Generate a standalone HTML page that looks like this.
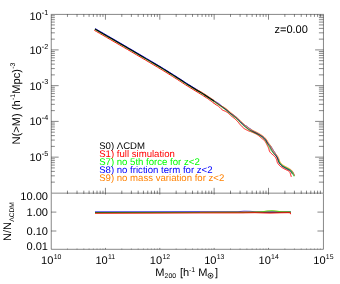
<!DOCTYPE html>
<html><head><meta charset="utf-8"><style>
html,body{margin:0;padding:0;background:#fff;}
svg{display:block;font-family:"Liberation Sans",sans-serif;will-change:transform;text-rendering:geometricPrecision;}
</style></head><body>
<svg width="340" height="284" viewBox="0 0 340 284">
<rect width="340" height="284" fill="#fff"/>
<g>
<rect x="51.25" y="14.4" width="272.2" height="178.75" fill="none" stroke="#000" stroke-width="1.0" stroke-opacity="0.47"/>
<polyline points="51.25,193.65 51.25,249.3 323.45,249.3 323.45,193.65" fill="none" stroke="#000" stroke-width="1.0" stroke-opacity="0.47"/>
<line x1="67.46" y1="14.40" x2="67.46" y2="16.90" stroke="#000" stroke-width="1.0" stroke-opacity="0.47"/>
<line x1="67.46" y1="193.15" x2="67.46" y2="190.65" stroke="#000" stroke-width="1.0" stroke-opacity="0.47"/>
<line x1="67.46" y1="193.15" x2="67.46" y2="193.85" stroke="#000" stroke-width="1.0" stroke-opacity="0.47"/>
<line x1="67.46" y1="249.30" x2="67.46" y2="248.60" stroke="#000" stroke-width="1.0" stroke-opacity="0.47"/>
<line x1="77.03" y1="14.40" x2="77.03" y2="16.90" stroke="#000" stroke-width="1.0" stroke-opacity="0.47"/>
<line x1="77.03" y1="193.15" x2="77.03" y2="190.65" stroke="#000" stroke-width="1.0" stroke-opacity="0.47"/>
<line x1="77.03" y1="193.15" x2="77.03" y2="193.85" stroke="#000" stroke-width="1.0" stroke-opacity="0.47"/>
<line x1="77.03" y1="249.30" x2="77.03" y2="248.60" stroke="#000" stroke-width="1.0" stroke-opacity="0.47"/>
<line x1="83.82" y1="14.40" x2="83.82" y2="16.90" stroke="#000" stroke-width="1.0" stroke-opacity="0.47"/>
<line x1="83.82" y1="193.15" x2="83.82" y2="190.65" stroke="#000" stroke-width="1.0" stroke-opacity="0.47"/>
<line x1="83.82" y1="193.15" x2="83.82" y2="193.85" stroke="#000" stroke-width="1.0" stroke-opacity="0.47"/>
<line x1="83.82" y1="249.30" x2="83.82" y2="248.60" stroke="#000" stroke-width="1.0" stroke-opacity="0.47"/>
<line x1="89.09" y1="14.40" x2="89.09" y2="16.90" stroke="#000" stroke-width="1.0" stroke-opacity="0.47"/>
<line x1="89.09" y1="193.15" x2="89.09" y2="190.65" stroke="#000" stroke-width="1.0" stroke-opacity="0.47"/>
<line x1="89.09" y1="193.15" x2="89.09" y2="193.85" stroke="#000" stroke-width="1.0" stroke-opacity="0.47"/>
<line x1="89.09" y1="249.30" x2="89.09" y2="248.60" stroke="#000" stroke-width="1.0" stroke-opacity="0.47"/>
<line x1="93.39" y1="14.40" x2="93.39" y2="16.90" stroke="#000" stroke-width="1.0" stroke-opacity="0.47"/>
<line x1="93.39" y1="193.15" x2="93.39" y2="190.65" stroke="#000" stroke-width="1.0" stroke-opacity="0.47"/>
<line x1="93.39" y1="193.15" x2="93.39" y2="193.85" stroke="#000" stroke-width="1.0" stroke-opacity="0.47"/>
<line x1="93.39" y1="249.30" x2="93.39" y2="248.60" stroke="#000" stroke-width="1.0" stroke-opacity="0.47"/>
<line x1="97.03" y1="14.40" x2="97.03" y2="16.90" stroke="#000" stroke-width="1.0" stroke-opacity="0.47"/>
<line x1="97.03" y1="193.15" x2="97.03" y2="190.65" stroke="#000" stroke-width="1.0" stroke-opacity="0.47"/>
<line x1="97.03" y1="193.15" x2="97.03" y2="193.85" stroke="#000" stroke-width="1.0" stroke-opacity="0.47"/>
<line x1="97.03" y1="249.30" x2="97.03" y2="248.60" stroke="#000" stroke-width="1.0" stroke-opacity="0.47"/>
<line x1="100.18" y1="14.40" x2="100.18" y2="16.90" stroke="#000" stroke-width="1.0" stroke-opacity="0.47"/>
<line x1="100.18" y1="193.15" x2="100.18" y2="190.65" stroke="#000" stroke-width="1.0" stroke-opacity="0.47"/>
<line x1="100.18" y1="193.15" x2="100.18" y2="193.85" stroke="#000" stroke-width="1.0" stroke-opacity="0.47"/>
<line x1="100.18" y1="249.30" x2="100.18" y2="248.60" stroke="#000" stroke-width="1.0" stroke-opacity="0.47"/>
<line x1="102.96" y1="14.40" x2="102.96" y2="16.90" stroke="#000" stroke-width="1.0" stroke-opacity="0.47"/>
<line x1="102.96" y1="193.15" x2="102.96" y2="190.65" stroke="#000" stroke-width="1.0" stroke-opacity="0.47"/>
<line x1="102.96" y1="193.15" x2="102.96" y2="193.85" stroke="#000" stroke-width="1.0" stroke-opacity="0.47"/>
<line x1="102.96" y1="249.30" x2="102.96" y2="248.60" stroke="#000" stroke-width="1.0" stroke-opacity="0.47"/>
<line x1="105.45" y1="14.40" x2="105.45" y2="19.70" stroke="#000" stroke-width="1.0" stroke-opacity="0.47"/>
<line x1="105.45" y1="193.15" x2="105.45" y2="187.85" stroke="#000" stroke-width="1.0" stroke-opacity="0.47"/>
<line x1="105.45" y1="193.15" x2="105.45" y2="194.55" stroke="#000" stroke-width="1.0" stroke-opacity="0.47"/>
<line x1="105.45" y1="249.30" x2="105.45" y2="247.90" stroke="#000" stroke-width="1.0" stroke-opacity="0.47"/>
<line x1="121.81" y1="14.40" x2="121.81" y2="16.90" stroke="#000" stroke-width="1.0" stroke-opacity="0.47"/>
<line x1="121.81" y1="193.15" x2="121.81" y2="190.65" stroke="#000" stroke-width="1.0" stroke-opacity="0.47"/>
<line x1="121.81" y1="193.15" x2="121.81" y2="193.85" stroke="#000" stroke-width="1.0" stroke-opacity="0.47"/>
<line x1="121.81" y1="249.30" x2="121.81" y2="248.60" stroke="#000" stroke-width="1.0" stroke-opacity="0.47"/>
<line x1="131.38" y1="14.40" x2="131.38" y2="16.90" stroke="#000" stroke-width="1.0" stroke-opacity="0.47"/>
<line x1="131.38" y1="193.15" x2="131.38" y2="190.65" stroke="#000" stroke-width="1.0" stroke-opacity="0.47"/>
<line x1="131.38" y1="193.15" x2="131.38" y2="193.85" stroke="#000" stroke-width="1.0" stroke-opacity="0.47"/>
<line x1="131.38" y1="249.30" x2="131.38" y2="248.60" stroke="#000" stroke-width="1.0" stroke-opacity="0.47"/>
<line x1="138.17" y1="14.40" x2="138.17" y2="16.90" stroke="#000" stroke-width="1.0" stroke-opacity="0.47"/>
<line x1="138.17" y1="193.15" x2="138.17" y2="190.65" stroke="#000" stroke-width="1.0" stroke-opacity="0.47"/>
<line x1="138.17" y1="193.15" x2="138.17" y2="193.85" stroke="#000" stroke-width="1.0" stroke-opacity="0.47"/>
<line x1="138.17" y1="249.30" x2="138.17" y2="248.60" stroke="#000" stroke-width="1.0" stroke-opacity="0.47"/>
<line x1="143.44" y1="14.40" x2="143.44" y2="16.90" stroke="#000" stroke-width="1.0" stroke-opacity="0.47"/>
<line x1="143.44" y1="193.15" x2="143.44" y2="190.65" stroke="#000" stroke-width="1.0" stroke-opacity="0.47"/>
<line x1="143.44" y1="193.15" x2="143.44" y2="193.85" stroke="#000" stroke-width="1.0" stroke-opacity="0.47"/>
<line x1="143.44" y1="249.30" x2="143.44" y2="248.60" stroke="#000" stroke-width="1.0" stroke-opacity="0.47"/>
<line x1="147.74" y1="14.40" x2="147.74" y2="16.90" stroke="#000" stroke-width="1.0" stroke-opacity="0.47"/>
<line x1="147.74" y1="193.15" x2="147.74" y2="190.65" stroke="#000" stroke-width="1.0" stroke-opacity="0.47"/>
<line x1="147.74" y1="193.15" x2="147.74" y2="193.85" stroke="#000" stroke-width="1.0" stroke-opacity="0.47"/>
<line x1="147.74" y1="249.30" x2="147.74" y2="248.60" stroke="#000" stroke-width="1.0" stroke-opacity="0.47"/>
<line x1="151.38" y1="14.40" x2="151.38" y2="16.90" stroke="#000" stroke-width="1.0" stroke-opacity="0.47"/>
<line x1="151.38" y1="193.15" x2="151.38" y2="190.65" stroke="#000" stroke-width="1.0" stroke-opacity="0.47"/>
<line x1="151.38" y1="193.15" x2="151.38" y2="193.85" stroke="#000" stroke-width="1.0" stroke-opacity="0.47"/>
<line x1="151.38" y1="249.30" x2="151.38" y2="248.60" stroke="#000" stroke-width="1.0" stroke-opacity="0.47"/>
<line x1="154.53" y1="14.40" x2="154.53" y2="16.90" stroke="#000" stroke-width="1.0" stroke-opacity="0.47"/>
<line x1="154.53" y1="193.15" x2="154.53" y2="190.65" stroke="#000" stroke-width="1.0" stroke-opacity="0.47"/>
<line x1="154.53" y1="193.15" x2="154.53" y2="193.85" stroke="#000" stroke-width="1.0" stroke-opacity="0.47"/>
<line x1="154.53" y1="249.30" x2="154.53" y2="248.60" stroke="#000" stroke-width="1.0" stroke-opacity="0.47"/>
<line x1="157.31" y1="14.40" x2="157.31" y2="16.90" stroke="#000" stroke-width="1.0" stroke-opacity="0.47"/>
<line x1="157.31" y1="193.15" x2="157.31" y2="190.65" stroke="#000" stroke-width="1.0" stroke-opacity="0.47"/>
<line x1="157.31" y1="193.15" x2="157.31" y2="193.85" stroke="#000" stroke-width="1.0" stroke-opacity="0.47"/>
<line x1="157.31" y1="249.30" x2="157.31" y2="248.60" stroke="#000" stroke-width="1.0" stroke-opacity="0.47"/>
<line x1="159.80" y1="14.40" x2="159.80" y2="19.70" stroke="#000" stroke-width="1.0" stroke-opacity="0.47"/>
<line x1="159.80" y1="193.15" x2="159.80" y2="187.85" stroke="#000" stroke-width="1.0" stroke-opacity="0.47"/>
<line x1="159.80" y1="193.15" x2="159.80" y2="194.55" stroke="#000" stroke-width="1.0" stroke-opacity="0.47"/>
<line x1="159.80" y1="249.30" x2="159.80" y2="247.90" stroke="#000" stroke-width="1.0" stroke-opacity="0.47"/>
<line x1="176.16" y1="14.40" x2="176.16" y2="16.90" stroke="#000" stroke-width="1.0" stroke-opacity="0.47"/>
<line x1="176.16" y1="193.15" x2="176.16" y2="190.65" stroke="#000" stroke-width="1.0" stroke-opacity="0.47"/>
<line x1="176.16" y1="193.15" x2="176.16" y2="193.85" stroke="#000" stroke-width="1.0" stroke-opacity="0.47"/>
<line x1="176.16" y1="249.30" x2="176.16" y2="248.60" stroke="#000" stroke-width="1.0" stroke-opacity="0.47"/>
<line x1="185.73" y1="14.40" x2="185.73" y2="16.90" stroke="#000" stroke-width="1.0" stroke-opacity="0.47"/>
<line x1="185.73" y1="193.15" x2="185.73" y2="190.65" stroke="#000" stroke-width="1.0" stroke-opacity="0.47"/>
<line x1="185.73" y1="193.15" x2="185.73" y2="193.85" stroke="#000" stroke-width="1.0" stroke-opacity="0.47"/>
<line x1="185.73" y1="249.30" x2="185.73" y2="248.60" stroke="#000" stroke-width="1.0" stroke-opacity="0.47"/>
<line x1="192.52" y1="14.40" x2="192.52" y2="16.90" stroke="#000" stroke-width="1.0" stroke-opacity="0.47"/>
<line x1="192.52" y1="193.15" x2="192.52" y2="190.65" stroke="#000" stroke-width="1.0" stroke-opacity="0.47"/>
<line x1="192.52" y1="193.15" x2="192.52" y2="193.85" stroke="#000" stroke-width="1.0" stroke-opacity="0.47"/>
<line x1="192.52" y1="249.30" x2="192.52" y2="248.60" stroke="#000" stroke-width="1.0" stroke-opacity="0.47"/>
<line x1="197.79" y1="14.40" x2="197.79" y2="16.90" stroke="#000" stroke-width="1.0" stroke-opacity="0.47"/>
<line x1="197.79" y1="193.15" x2="197.79" y2="190.65" stroke="#000" stroke-width="1.0" stroke-opacity="0.47"/>
<line x1="197.79" y1="193.15" x2="197.79" y2="193.85" stroke="#000" stroke-width="1.0" stroke-opacity="0.47"/>
<line x1="197.79" y1="249.30" x2="197.79" y2="248.60" stroke="#000" stroke-width="1.0" stroke-opacity="0.47"/>
<line x1="202.09" y1="14.40" x2="202.09" y2="16.90" stroke="#000" stroke-width="1.0" stroke-opacity="0.47"/>
<line x1="202.09" y1="193.15" x2="202.09" y2="190.65" stroke="#000" stroke-width="1.0" stroke-opacity="0.47"/>
<line x1="202.09" y1="193.15" x2="202.09" y2="193.85" stroke="#000" stroke-width="1.0" stroke-opacity="0.47"/>
<line x1="202.09" y1="249.30" x2="202.09" y2="248.60" stroke="#000" stroke-width="1.0" stroke-opacity="0.47"/>
<line x1="205.73" y1="14.40" x2="205.73" y2="16.90" stroke="#000" stroke-width="1.0" stroke-opacity="0.47"/>
<line x1="205.73" y1="193.15" x2="205.73" y2="190.65" stroke="#000" stroke-width="1.0" stroke-opacity="0.47"/>
<line x1="205.73" y1="193.15" x2="205.73" y2="193.85" stroke="#000" stroke-width="1.0" stroke-opacity="0.47"/>
<line x1="205.73" y1="249.30" x2="205.73" y2="248.60" stroke="#000" stroke-width="1.0" stroke-opacity="0.47"/>
<line x1="208.88" y1="14.40" x2="208.88" y2="16.90" stroke="#000" stroke-width="1.0" stroke-opacity="0.47"/>
<line x1="208.88" y1="193.15" x2="208.88" y2="190.65" stroke="#000" stroke-width="1.0" stroke-opacity="0.47"/>
<line x1="208.88" y1="193.15" x2="208.88" y2="193.85" stroke="#000" stroke-width="1.0" stroke-opacity="0.47"/>
<line x1="208.88" y1="249.30" x2="208.88" y2="248.60" stroke="#000" stroke-width="1.0" stroke-opacity="0.47"/>
<line x1="211.66" y1="14.40" x2="211.66" y2="16.90" stroke="#000" stroke-width="1.0" stroke-opacity="0.47"/>
<line x1="211.66" y1="193.15" x2="211.66" y2="190.65" stroke="#000" stroke-width="1.0" stroke-opacity="0.47"/>
<line x1="211.66" y1="193.15" x2="211.66" y2="193.85" stroke="#000" stroke-width="1.0" stroke-opacity="0.47"/>
<line x1="211.66" y1="249.30" x2="211.66" y2="248.60" stroke="#000" stroke-width="1.0" stroke-opacity="0.47"/>
<line x1="214.15" y1="14.40" x2="214.15" y2="19.70" stroke="#000" stroke-width="1.0" stroke-opacity="0.47"/>
<line x1="214.15" y1="193.15" x2="214.15" y2="187.85" stroke="#000" stroke-width="1.0" stroke-opacity="0.47"/>
<line x1="214.15" y1="193.15" x2="214.15" y2="194.55" stroke="#000" stroke-width="1.0" stroke-opacity="0.47"/>
<line x1="214.15" y1="249.30" x2="214.15" y2="247.90" stroke="#000" stroke-width="1.0" stroke-opacity="0.47"/>
<line x1="230.51" y1="14.40" x2="230.51" y2="16.90" stroke="#000" stroke-width="1.0" stroke-opacity="0.47"/>
<line x1="230.51" y1="193.15" x2="230.51" y2="190.65" stroke="#000" stroke-width="1.0" stroke-opacity="0.47"/>
<line x1="230.51" y1="193.15" x2="230.51" y2="193.85" stroke="#000" stroke-width="1.0" stroke-opacity="0.47"/>
<line x1="230.51" y1="249.30" x2="230.51" y2="248.60" stroke="#000" stroke-width="1.0" stroke-opacity="0.47"/>
<line x1="240.08" y1="14.40" x2="240.08" y2="16.90" stroke="#000" stroke-width="1.0" stroke-opacity="0.47"/>
<line x1="240.08" y1="193.15" x2="240.08" y2="190.65" stroke="#000" stroke-width="1.0" stroke-opacity="0.47"/>
<line x1="240.08" y1="193.15" x2="240.08" y2="193.85" stroke="#000" stroke-width="1.0" stroke-opacity="0.47"/>
<line x1="240.08" y1="249.30" x2="240.08" y2="248.60" stroke="#000" stroke-width="1.0" stroke-opacity="0.47"/>
<line x1="246.87" y1="14.40" x2="246.87" y2="16.90" stroke="#000" stroke-width="1.0" stroke-opacity="0.47"/>
<line x1="246.87" y1="193.15" x2="246.87" y2="190.65" stroke="#000" stroke-width="1.0" stroke-opacity="0.47"/>
<line x1="246.87" y1="193.15" x2="246.87" y2="193.85" stroke="#000" stroke-width="1.0" stroke-opacity="0.47"/>
<line x1="246.87" y1="249.30" x2="246.87" y2="248.60" stroke="#000" stroke-width="1.0" stroke-opacity="0.47"/>
<line x1="252.14" y1="14.40" x2="252.14" y2="16.90" stroke="#000" stroke-width="1.0" stroke-opacity="0.47"/>
<line x1="252.14" y1="193.15" x2="252.14" y2="190.65" stroke="#000" stroke-width="1.0" stroke-opacity="0.47"/>
<line x1="252.14" y1="193.15" x2="252.14" y2="193.85" stroke="#000" stroke-width="1.0" stroke-opacity="0.47"/>
<line x1="252.14" y1="249.30" x2="252.14" y2="248.60" stroke="#000" stroke-width="1.0" stroke-opacity="0.47"/>
<line x1="256.44" y1="14.40" x2="256.44" y2="16.90" stroke="#000" stroke-width="1.0" stroke-opacity="0.47"/>
<line x1="256.44" y1="193.15" x2="256.44" y2="190.65" stroke="#000" stroke-width="1.0" stroke-opacity="0.47"/>
<line x1="256.44" y1="193.15" x2="256.44" y2="193.85" stroke="#000" stroke-width="1.0" stroke-opacity="0.47"/>
<line x1="256.44" y1="249.30" x2="256.44" y2="248.60" stroke="#000" stroke-width="1.0" stroke-opacity="0.47"/>
<line x1="260.08" y1="14.40" x2="260.08" y2="16.90" stroke="#000" stroke-width="1.0" stroke-opacity="0.47"/>
<line x1="260.08" y1="193.15" x2="260.08" y2="190.65" stroke="#000" stroke-width="1.0" stroke-opacity="0.47"/>
<line x1="260.08" y1="193.15" x2="260.08" y2="193.85" stroke="#000" stroke-width="1.0" stroke-opacity="0.47"/>
<line x1="260.08" y1="249.30" x2="260.08" y2="248.60" stroke="#000" stroke-width="1.0" stroke-opacity="0.47"/>
<line x1="263.23" y1="14.40" x2="263.23" y2="16.90" stroke="#000" stroke-width="1.0" stroke-opacity="0.47"/>
<line x1="263.23" y1="193.15" x2="263.23" y2="190.65" stroke="#000" stroke-width="1.0" stroke-opacity="0.47"/>
<line x1="263.23" y1="193.15" x2="263.23" y2="193.85" stroke="#000" stroke-width="1.0" stroke-opacity="0.47"/>
<line x1="263.23" y1="249.30" x2="263.23" y2="248.60" stroke="#000" stroke-width="1.0" stroke-opacity="0.47"/>
<line x1="266.01" y1="14.40" x2="266.01" y2="16.90" stroke="#000" stroke-width="1.0" stroke-opacity="0.47"/>
<line x1="266.01" y1="193.15" x2="266.01" y2="190.65" stroke="#000" stroke-width="1.0" stroke-opacity="0.47"/>
<line x1="266.01" y1="193.15" x2="266.01" y2="193.85" stroke="#000" stroke-width="1.0" stroke-opacity="0.47"/>
<line x1="266.01" y1="249.30" x2="266.01" y2="248.60" stroke="#000" stroke-width="1.0" stroke-opacity="0.47"/>
<line x1="268.50" y1="14.40" x2="268.50" y2="19.70" stroke="#000" stroke-width="1.0" stroke-opacity="0.47"/>
<line x1="268.50" y1="193.15" x2="268.50" y2="187.85" stroke="#000" stroke-width="1.0" stroke-opacity="0.47"/>
<line x1="268.50" y1="193.15" x2="268.50" y2="194.55" stroke="#000" stroke-width="1.0" stroke-opacity="0.47"/>
<line x1="268.50" y1="249.30" x2="268.50" y2="247.90" stroke="#000" stroke-width="1.0" stroke-opacity="0.47"/>
<line x1="284.86" y1="14.40" x2="284.86" y2="16.90" stroke="#000" stroke-width="1.0" stroke-opacity="0.47"/>
<line x1="284.86" y1="193.15" x2="284.86" y2="190.65" stroke="#000" stroke-width="1.0" stroke-opacity="0.47"/>
<line x1="284.86" y1="193.15" x2="284.86" y2="193.85" stroke="#000" stroke-width="1.0" stroke-opacity="0.47"/>
<line x1="284.86" y1="249.30" x2="284.86" y2="248.60" stroke="#000" stroke-width="1.0" stroke-opacity="0.47"/>
<line x1="294.43" y1="14.40" x2="294.43" y2="16.90" stroke="#000" stroke-width="1.0" stroke-opacity="0.47"/>
<line x1="294.43" y1="193.15" x2="294.43" y2="190.65" stroke="#000" stroke-width="1.0" stroke-opacity="0.47"/>
<line x1="294.43" y1="193.15" x2="294.43" y2="193.85" stroke="#000" stroke-width="1.0" stroke-opacity="0.47"/>
<line x1="294.43" y1="249.30" x2="294.43" y2="248.60" stroke="#000" stroke-width="1.0" stroke-opacity="0.47"/>
<line x1="301.22" y1="14.40" x2="301.22" y2="16.90" stroke="#000" stroke-width="1.0" stroke-opacity="0.47"/>
<line x1="301.22" y1="193.15" x2="301.22" y2="190.65" stroke="#000" stroke-width="1.0" stroke-opacity="0.47"/>
<line x1="301.22" y1="193.15" x2="301.22" y2="193.85" stroke="#000" stroke-width="1.0" stroke-opacity="0.47"/>
<line x1="301.22" y1="249.30" x2="301.22" y2="248.60" stroke="#000" stroke-width="1.0" stroke-opacity="0.47"/>
<line x1="306.49" y1="14.40" x2="306.49" y2="16.90" stroke="#000" stroke-width="1.0" stroke-opacity="0.47"/>
<line x1="306.49" y1="193.15" x2="306.49" y2="190.65" stroke="#000" stroke-width="1.0" stroke-opacity="0.47"/>
<line x1="306.49" y1="193.15" x2="306.49" y2="193.85" stroke="#000" stroke-width="1.0" stroke-opacity="0.47"/>
<line x1="306.49" y1="249.30" x2="306.49" y2="248.60" stroke="#000" stroke-width="1.0" stroke-opacity="0.47"/>
<line x1="310.79" y1="14.40" x2="310.79" y2="16.90" stroke="#000" stroke-width="1.0" stroke-opacity="0.47"/>
<line x1="310.79" y1="193.15" x2="310.79" y2="190.65" stroke="#000" stroke-width="1.0" stroke-opacity="0.47"/>
<line x1="310.79" y1="193.15" x2="310.79" y2="193.85" stroke="#000" stroke-width="1.0" stroke-opacity="0.47"/>
<line x1="310.79" y1="249.30" x2="310.79" y2="248.60" stroke="#000" stroke-width="1.0" stroke-opacity="0.47"/>
<line x1="314.43" y1="14.40" x2="314.43" y2="16.90" stroke="#000" stroke-width="1.0" stroke-opacity="0.47"/>
<line x1="314.43" y1="193.15" x2="314.43" y2="190.65" stroke="#000" stroke-width="1.0" stroke-opacity="0.47"/>
<line x1="314.43" y1="193.15" x2="314.43" y2="193.85" stroke="#000" stroke-width="1.0" stroke-opacity="0.47"/>
<line x1="314.43" y1="249.30" x2="314.43" y2="248.60" stroke="#000" stroke-width="1.0" stroke-opacity="0.47"/>
<line x1="317.58" y1="14.40" x2="317.58" y2="16.90" stroke="#000" stroke-width="1.0" stroke-opacity="0.47"/>
<line x1="317.58" y1="193.15" x2="317.58" y2="190.65" stroke="#000" stroke-width="1.0" stroke-opacity="0.47"/>
<line x1="317.58" y1="193.15" x2="317.58" y2="193.85" stroke="#000" stroke-width="1.0" stroke-opacity="0.47"/>
<line x1="317.58" y1="249.30" x2="317.58" y2="248.60" stroke="#000" stroke-width="1.0" stroke-opacity="0.47"/>
<line x1="320.36" y1="14.40" x2="320.36" y2="16.90" stroke="#000" stroke-width="1.0" stroke-opacity="0.47"/>
<line x1="320.36" y1="193.15" x2="320.36" y2="190.65" stroke="#000" stroke-width="1.0" stroke-opacity="0.47"/>
<line x1="320.36" y1="193.15" x2="320.36" y2="193.85" stroke="#000" stroke-width="1.0" stroke-opacity="0.47"/>
<line x1="320.36" y1="249.30" x2="320.36" y2="248.60" stroke="#000" stroke-width="1.0" stroke-opacity="0.47"/>
<line x1="51.25" y1="182.14" x2="54.85" y2="182.14" stroke="#000" stroke-width="1.0" stroke-opacity="0.47"/>
<line x1="323.45" y1="182.14" x2="318.90" y2="182.14" stroke="#000" stroke-width="1.0" stroke-opacity="0.47"/>
<line x1="51.25" y1="175.84" x2="54.85" y2="175.84" stroke="#000" stroke-width="1.0" stroke-opacity="0.47"/>
<line x1="323.45" y1="175.84" x2="318.90" y2="175.84" stroke="#000" stroke-width="1.0" stroke-opacity="0.47"/>
<line x1="51.25" y1="171.38" x2="54.85" y2="171.38" stroke="#000" stroke-width="1.0" stroke-opacity="0.47"/>
<line x1="323.45" y1="171.38" x2="318.90" y2="171.38" stroke="#000" stroke-width="1.0" stroke-opacity="0.47"/>
<line x1="51.25" y1="167.91" x2="54.85" y2="167.91" stroke="#000" stroke-width="1.0" stroke-opacity="0.47"/>
<line x1="323.45" y1="167.91" x2="318.90" y2="167.91" stroke="#000" stroke-width="1.0" stroke-opacity="0.47"/>
<line x1="51.25" y1="165.08" x2="54.85" y2="165.08" stroke="#000" stroke-width="1.0" stroke-opacity="0.47"/>
<line x1="323.45" y1="165.08" x2="318.90" y2="165.08" stroke="#000" stroke-width="1.0" stroke-opacity="0.47"/>
<line x1="51.25" y1="162.69" x2="54.85" y2="162.69" stroke="#000" stroke-width="1.0" stroke-opacity="0.47"/>
<line x1="323.45" y1="162.69" x2="318.90" y2="162.69" stroke="#000" stroke-width="1.0" stroke-opacity="0.47"/>
<line x1="51.25" y1="160.61" x2="54.85" y2="160.61" stroke="#000" stroke-width="1.0" stroke-opacity="0.47"/>
<line x1="323.45" y1="160.61" x2="318.90" y2="160.61" stroke="#000" stroke-width="1.0" stroke-opacity="0.47"/>
<line x1="51.25" y1="158.79" x2="54.85" y2="158.79" stroke="#000" stroke-width="1.0" stroke-opacity="0.47"/>
<line x1="323.45" y1="158.79" x2="318.90" y2="158.79" stroke="#000" stroke-width="1.0" stroke-opacity="0.47"/>
<line x1="51.25" y1="157.15" x2="58.65" y2="157.15" stroke="#000" stroke-width="1.0" stroke-opacity="0.47"/>
<line x1="323.45" y1="157.15" x2="315.10" y2="157.15" stroke="#000" stroke-width="1.0" stroke-opacity="0.47"/>
<line x1="51.25" y1="146.39" x2="54.85" y2="146.39" stroke="#000" stroke-width="1.0" stroke-opacity="0.47"/>
<line x1="323.45" y1="146.39" x2="318.90" y2="146.39" stroke="#000" stroke-width="1.0" stroke-opacity="0.47"/>
<line x1="51.25" y1="140.09" x2="54.85" y2="140.09" stroke="#000" stroke-width="1.0" stroke-opacity="0.47"/>
<line x1="323.45" y1="140.09" x2="318.90" y2="140.09" stroke="#000" stroke-width="1.0" stroke-opacity="0.47"/>
<line x1="51.25" y1="135.63" x2="54.85" y2="135.63" stroke="#000" stroke-width="1.0" stroke-opacity="0.47"/>
<line x1="323.45" y1="135.63" x2="318.90" y2="135.63" stroke="#000" stroke-width="1.0" stroke-opacity="0.47"/>
<line x1="51.25" y1="132.16" x2="54.85" y2="132.16" stroke="#000" stroke-width="1.0" stroke-opacity="0.47"/>
<line x1="323.45" y1="132.16" x2="318.90" y2="132.16" stroke="#000" stroke-width="1.0" stroke-opacity="0.47"/>
<line x1="51.25" y1="129.33" x2="54.85" y2="129.33" stroke="#000" stroke-width="1.0" stroke-opacity="0.47"/>
<line x1="323.45" y1="129.33" x2="318.90" y2="129.33" stroke="#000" stroke-width="1.0" stroke-opacity="0.47"/>
<line x1="51.25" y1="126.94" x2="54.85" y2="126.94" stroke="#000" stroke-width="1.0" stroke-opacity="0.47"/>
<line x1="323.45" y1="126.94" x2="318.90" y2="126.94" stroke="#000" stroke-width="1.0" stroke-opacity="0.47"/>
<line x1="51.25" y1="124.86" x2="54.85" y2="124.86" stroke="#000" stroke-width="1.0" stroke-opacity="0.47"/>
<line x1="323.45" y1="124.86" x2="318.90" y2="124.86" stroke="#000" stroke-width="1.0" stroke-opacity="0.47"/>
<line x1="51.25" y1="123.04" x2="54.85" y2="123.04" stroke="#000" stroke-width="1.0" stroke-opacity="0.47"/>
<line x1="323.45" y1="123.04" x2="318.90" y2="123.04" stroke="#000" stroke-width="1.0" stroke-opacity="0.47"/>
<line x1="51.25" y1="121.40" x2="58.65" y2="121.40" stroke="#000" stroke-width="1.0" stroke-opacity="0.47"/>
<line x1="323.45" y1="121.40" x2="315.10" y2="121.40" stroke="#000" stroke-width="1.0" stroke-opacity="0.47"/>
<line x1="51.25" y1="110.64" x2="54.85" y2="110.64" stroke="#000" stroke-width="1.0" stroke-opacity="0.47"/>
<line x1="323.45" y1="110.64" x2="318.90" y2="110.64" stroke="#000" stroke-width="1.0" stroke-opacity="0.47"/>
<line x1="51.25" y1="104.34" x2="54.85" y2="104.34" stroke="#000" stroke-width="1.0" stroke-opacity="0.47"/>
<line x1="323.45" y1="104.34" x2="318.90" y2="104.34" stroke="#000" stroke-width="1.0" stroke-opacity="0.47"/>
<line x1="51.25" y1="99.88" x2="54.85" y2="99.88" stroke="#000" stroke-width="1.0" stroke-opacity="0.47"/>
<line x1="323.45" y1="99.88" x2="318.90" y2="99.88" stroke="#000" stroke-width="1.0" stroke-opacity="0.47"/>
<line x1="51.25" y1="96.41" x2="54.85" y2="96.41" stroke="#000" stroke-width="1.0" stroke-opacity="0.47"/>
<line x1="323.45" y1="96.41" x2="318.90" y2="96.41" stroke="#000" stroke-width="1.0" stroke-opacity="0.47"/>
<line x1="51.25" y1="93.58" x2="54.85" y2="93.58" stroke="#000" stroke-width="1.0" stroke-opacity="0.47"/>
<line x1="323.45" y1="93.58" x2="318.90" y2="93.58" stroke="#000" stroke-width="1.0" stroke-opacity="0.47"/>
<line x1="51.25" y1="91.19" x2="54.85" y2="91.19" stroke="#000" stroke-width="1.0" stroke-opacity="0.47"/>
<line x1="323.45" y1="91.19" x2="318.90" y2="91.19" stroke="#000" stroke-width="1.0" stroke-opacity="0.47"/>
<line x1="51.25" y1="89.11" x2="54.85" y2="89.11" stroke="#000" stroke-width="1.0" stroke-opacity="0.47"/>
<line x1="323.45" y1="89.11" x2="318.90" y2="89.11" stroke="#000" stroke-width="1.0" stroke-opacity="0.47"/>
<line x1="51.25" y1="87.29" x2="54.85" y2="87.29" stroke="#000" stroke-width="1.0" stroke-opacity="0.47"/>
<line x1="323.45" y1="87.29" x2="318.90" y2="87.29" stroke="#000" stroke-width="1.0" stroke-opacity="0.47"/>
<line x1="51.25" y1="85.65" x2="58.65" y2="85.65" stroke="#000" stroke-width="1.0" stroke-opacity="0.47"/>
<line x1="323.45" y1="85.65" x2="315.10" y2="85.65" stroke="#000" stroke-width="1.0" stroke-opacity="0.47"/>
<line x1="51.25" y1="74.89" x2="54.85" y2="74.89" stroke="#000" stroke-width="1.0" stroke-opacity="0.47"/>
<line x1="323.45" y1="74.89" x2="318.90" y2="74.89" stroke="#000" stroke-width="1.0" stroke-opacity="0.47"/>
<line x1="51.25" y1="68.59" x2="54.85" y2="68.59" stroke="#000" stroke-width="1.0" stroke-opacity="0.47"/>
<line x1="323.45" y1="68.59" x2="318.90" y2="68.59" stroke="#000" stroke-width="1.0" stroke-opacity="0.47"/>
<line x1="51.25" y1="64.13" x2="54.85" y2="64.13" stroke="#000" stroke-width="1.0" stroke-opacity="0.47"/>
<line x1="323.45" y1="64.13" x2="318.90" y2="64.13" stroke="#000" stroke-width="1.0" stroke-opacity="0.47"/>
<line x1="51.25" y1="60.66" x2="54.85" y2="60.66" stroke="#000" stroke-width="1.0" stroke-opacity="0.47"/>
<line x1="323.45" y1="60.66" x2="318.90" y2="60.66" stroke="#000" stroke-width="1.0" stroke-opacity="0.47"/>
<line x1="51.25" y1="57.83" x2="54.85" y2="57.83" stroke="#000" stroke-width="1.0" stroke-opacity="0.47"/>
<line x1="323.45" y1="57.83" x2="318.90" y2="57.83" stroke="#000" stroke-width="1.0" stroke-opacity="0.47"/>
<line x1="51.25" y1="55.44" x2="54.85" y2="55.44" stroke="#000" stroke-width="1.0" stroke-opacity="0.47"/>
<line x1="323.45" y1="55.44" x2="318.90" y2="55.44" stroke="#000" stroke-width="1.0" stroke-opacity="0.47"/>
<line x1="51.25" y1="53.36" x2="54.85" y2="53.36" stroke="#000" stroke-width="1.0" stroke-opacity="0.47"/>
<line x1="323.45" y1="53.36" x2="318.90" y2="53.36" stroke="#000" stroke-width="1.0" stroke-opacity="0.47"/>
<line x1="51.25" y1="51.54" x2="54.85" y2="51.54" stroke="#000" stroke-width="1.0" stroke-opacity="0.47"/>
<line x1="323.45" y1="51.54" x2="318.90" y2="51.54" stroke="#000" stroke-width="1.0" stroke-opacity="0.47"/>
<line x1="51.25" y1="49.90" x2="58.65" y2="49.90" stroke="#000" stroke-width="1.0" stroke-opacity="0.47"/>
<line x1="323.45" y1="49.90" x2="315.10" y2="49.90" stroke="#000" stroke-width="1.0" stroke-opacity="0.47"/>
<line x1="51.25" y1="39.14" x2="54.85" y2="39.14" stroke="#000" stroke-width="1.0" stroke-opacity="0.47"/>
<line x1="323.45" y1="39.14" x2="318.90" y2="39.14" stroke="#000" stroke-width="1.0" stroke-opacity="0.47"/>
<line x1="51.25" y1="32.84" x2="54.85" y2="32.84" stroke="#000" stroke-width="1.0" stroke-opacity="0.47"/>
<line x1="323.45" y1="32.84" x2="318.90" y2="32.84" stroke="#000" stroke-width="1.0" stroke-opacity="0.47"/>
<line x1="51.25" y1="28.38" x2="54.85" y2="28.38" stroke="#000" stroke-width="1.0" stroke-opacity="0.47"/>
<line x1="323.45" y1="28.38" x2="318.90" y2="28.38" stroke="#000" stroke-width="1.0" stroke-opacity="0.47"/>
<line x1="51.25" y1="24.91" x2="54.85" y2="24.91" stroke="#000" stroke-width="1.0" stroke-opacity="0.47"/>
<line x1="323.45" y1="24.91" x2="318.90" y2="24.91" stroke="#000" stroke-width="1.0" stroke-opacity="0.47"/>
<line x1="51.25" y1="22.08" x2="54.85" y2="22.08" stroke="#000" stroke-width="1.0" stroke-opacity="0.47"/>
<line x1="323.45" y1="22.08" x2="318.90" y2="22.08" stroke="#000" stroke-width="1.0" stroke-opacity="0.47"/>
<line x1="51.25" y1="19.69" x2="54.85" y2="19.69" stroke="#000" stroke-width="1.0" stroke-opacity="0.47"/>
<line x1="323.45" y1="19.69" x2="318.90" y2="19.69" stroke="#000" stroke-width="1.0" stroke-opacity="0.47"/>
<line x1="51.25" y1="17.61" x2="54.85" y2="17.61" stroke="#000" stroke-width="1.0" stroke-opacity="0.47"/>
<line x1="323.45" y1="17.61" x2="318.90" y2="17.61" stroke="#000" stroke-width="1.0" stroke-opacity="0.47"/>
<line x1="51.25" y1="15.79" x2="54.85" y2="15.79" stroke="#000" stroke-width="1.0" stroke-opacity="0.47"/>
<line x1="323.45" y1="15.79" x2="318.90" y2="15.79" stroke="#000" stroke-width="1.0" stroke-opacity="0.47"/>
<line x1="51.25" y1="212.10" x2="56.35" y2="212.10" stroke="#000" stroke-width="1.0" stroke-opacity="0.47"/>
<line x1="323.45" y1="212.10" x2="317.45" y2="212.10" stroke="#000" stroke-width="1.0" stroke-opacity="0.47"/>
<line x1="51.25" y1="231.00" x2="56.35" y2="231.00" stroke="#000" stroke-width="1.0" stroke-opacity="0.47"/>
<line x1="323.45" y1="231.00" x2="317.45" y2="231.00" stroke="#000" stroke-width="1.0" stroke-opacity="0.47"/>
<text x="48.20" y="15.00" font-size="7.2" text-anchor="end" fill="#000" >-1</text>
<text x="41.70" y="20.30" font-size="11.05" text-anchor="end" fill="#000" >10</text>
<text x="48.20" y="48.50" font-size="7.2" text-anchor="end" fill="#000" >-2</text>
<text x="41.70" y="53.80" font-size="11.05" text-anchor="end" fill="#000" >10</text>
<text x="48.20" y="84.25" font-size="7.2" text-anchor="end" fill="#000" >-3</text>
<text x="41.70" y="89.55" font-size="11.05" text-anchor="end" fill="#000" >10</text>
<text x="48.20" y="120.00" font-size="7.2" text-anchor="end" fill="#000" >-4</text>
<text x="41.70" y="125.30" font-size="11.05" text-anchor="end" fill="#000" >10</text>
<text x="48.20" y="155.75" font-size="7.2" text-anchor="end" fill="#000" >-5</text>
<text x="41.70" y="161.05" font-size="11.05" text-anchor="end" fill="#000" >10</text>
<text x="48.00" y="199.80" font-size="11.05" text-anchor="end" fill="#000" >10.00</text>
<text x="48.00" y="215.95" font-size="11.05" text-anchor="end" fill="#000" >1.00</text>
<text x="48.00" y="234.90" font-size="11.05" text-anchor="end" fill="#000" >0.10</text>
<text x="48.00" y="249.60" font-size="11.05" text-anchor="end" fill="#000" >0.01</text>
<text x="41.12" y="263.70" font-size="11.05" text-anchor="start" fill="#000" >10</text>
<text x="53.71" y="259.30" font-size="6.9" text-anchor="start" fill="#000" >10</text>
<text x="95.47" y="263.70" font-size="11.05" text-anchor="start" fill="#000" >10</text>
<text x="108.06" y="259.30" font-size="6.9" text-anchor="start" fill="#000" >11</text>
<text x="149.82" y="263.70" font-size="11.05" text-anchor="start" fill="#000" >10</text>
<text x="162.41" y="259.30" font-size="6.9" text-anchor="start" fill="#000" >12</text>
<text x="204.17" y="263.70" font-size="11.05" text-anchor="start" fill="#000" >10</text>
<text x="216.76" y="259.30" font-size="6.9" text-anchor="start" fill="#000" >13</text>
<text x="258.52" y="263.70" font-size="11.05" text-anchor="start" fill="#000" >10</text>
<text x="271.11" y="259.30" font-size="6.9" text-anchor="start" fill="#000" >14</text>
<text x="313.27" y="263.70" font-size="11.05" text-anchor="start" fill="#000" >10</text>
<text x="325.86" y="259.30" font-size="6.9" text-anchor="start" fill="#000" >15</text>
<text x="274.50" y="33.20" font-size="11.0" text-anchor="start" fill="#000" >z=0.00</text>
<text x="155.20" y="275.90" font-size="11.05" text-anchor="start" fill="#000" >M</text>
<text x="164.60" y="278.40" font-size="6.9" text-anchor="start" fill="#000" >200</text>
<text x="180.00" y="275.90" font-size="11.05" text-anchor="start" fill="#000" >[h</text>
<text x="189.00" y="271.90" font-size="6.9" text-anchor="start" fill="#000" >-1</text>
<text x="198.20" y="275.90" font-size="11.05" text-anchor="start" fill="#000" >M</text>
<circle cx="210.5" cy="275.75" r="2.5" fill="none" stroke="#000" stroke-width="0.75"/>
<circle cx="210.5" cy="275.75" r="0.9" fill="#000"/>
<text x="215.00" y="275.90" font-size="11.05" text-anchor="start" fill="#000" >]</text>
<text transform="translate(20.40,144.50) rotate(-90)" font-size="11.15" fill="#000">N(&gt;M) (h</text>
<text transform="translate(14.90,100.01) rotate(-90)" font-size="6.9" fill="#000">-1</text>
<text transform="translate(20.40,93.68) rotate(-90)" font-size="11.15" fill="#000">Mpc)</text>
<text transform="translate(14.90,68.70) rotate(-90)" font-size="6.9" fill="#000">-3</text>
<text transform="translate(11.00,241.00) rotate(-90)" font-size="11.05" fill="#000">N/N</text>
<text transform="translate(14.40,221.77) rotate(-90)" font-size="6.7" fill="#000">ΛCDM</text>
<text x="99.20" y="148.80" font-size="9.6" text-anchor="start" fill="#000" >S0) ΛCDM</text>
<text x="99.20" y="156.96" font-size="9.6" text-anchor="start" fill="#ff0000" >S1) full simulation</text>
<text x="99.20" y="165.12" font-size="9.6" text-anchor="start" fill="#00ff00" >S7) no 5th force for z&lt;2</text>
<text x="99.20" y="173.28" font-size="9.6" text-anchor="start" fill="#0000ff" >S8) no friction term for z&lt;2</text>
<text x="99.20" y="181.44" font-size="9.6" text-anchor="start" fill="#ff8000" >S9) no mass variation for z&lt;2</text>
<polyline points="94.27,30.26 96.48,31.53 99.37,33.20 102.81,35.18 106.65,37.40 110.76,39.78 115.00,42.23 119.21,44.68 123.28,47.04 127.40,49.45 131.82,52.03 136.41,54.72 141.03,57.43 145.55,60.09 149.85,62.62 153.80,64.96 157.27,67.02 160.23,68.80 162.80,70.35 165.05,71.73 167.06,72.98 168.91,74.13 170.67,75.24 172.43,76.35 174.24,77.50 176.04,78.64 177.72,79.71 179.31,80.75 180.85,81.76 182.38,82.76 183.94,83.78 185.55,84.81 187.25,85.89 189.08,87.03 191.02,88.22 193.01,89.44 195.02,90.66 197.00,91.86 198.89,93.01 200.66,94.10 202.25,95.09 203.69,96.00 205.03,96.86 206.27,97.66 207.41,98.42 208.45,99.17 209.41,99.86 210.30,100.51 211.12,101.10 211.84,101.63 212.44,102.07 212.94,102.44 213.37,102.78 213.77,103.09" fill="none" stroke="#ff0000" stroke-width="0.95" stroke-opacity="1" stroke-linejoin="round"/>
<polyline points="213.37,102.78 213.77,103.09 214.16,103.38 216.00,104.70 216.39,104.94 216.95,105.28 217.60,105.67 218.24,106.09 218.80,106.50 219.26,106.91 219.69,107.34 220.09,107.77 220.49,108.20 220.90,108.60 221.31,108.97 221.70,109.33 222.10,109.68 222.53,110.00 223.00,110.30 223.53,110.56 224.11,110.78 224.71,110.99 225.31,111.22 225.90,111.50 226.48,111.85 227.06,112.24 227.64,112.65 228.19,113.08 228.70,113.50 229.16,113.92 229.59,114.36 229.99,114.79 230.39,115.21 230.80,115.60 231.21,115.94 231.62,116.25 232.02,116.54 232.45,116.85 232.90,117.20 233.39,117.60 233.91,118.02 234.44,118.46 234.98,118.92 235.50,119.40 236.01,119.90 236.53,120.42 237.03,120.95 237.53,121.48 238.00,122.00 238.45,122.51 238.87,123.02 239.28,123.52 239.69,124.01 240.10,124.50 240.52,124.98 240.94,125.45 241.35,125.92 241.77,126.37 242.20,126.80 242.62,127.21 243.04,127.61 243.47,127.99 243.92,128.35 244.40,128.70 244.93,129.03 245.51,129.35 246.10,129.66 246.68,129.94 247.20,130.20 247.67,130.44 248.10,130.66 248.51,130.85 248.90,131.03 249.30,131.20 249.68,131.34 250.03,131.44 250.38,131.54 250.77,131.65 251.20,131.80 251.70,132.00 252.25,132.22 252.82,132.47 253.41,132.73 254.00,133.00 254.60,133.27 255.21,133.56 255.83,133.86 256.43,134.17 257.00,134.50 257.53,134.85 258.02,135.21 258.50,135.58 258.98,135.98 259.50,136.40 260.07,136.86 260.67,137.35 261.28,137.86 261.86,138.35 262.40,138.80 262.88,139.19 263.33,139.55 263.75,139.89 264.14,140.23 264.50,140.60 264.83,140.99 265.12,141.40 265.38,141.82 265.64,142.25 265.90,142.70 266.17,143.18 266.44,143.70 266.71,144.22 266.96,144.73 267.20,145.20 267.42,145.64 267.64,146.05 267.84,146.44 268.02,146.82 268.20,147.20 268.36,147.56 268.50,147.90 268.63,148.23 268.76,148.59 268.90,149.00 269.03,149.47 269.15,150.00 269.28,150.54 269.46,151.09 269.70,151.60 270.03,152.08 270.41,152.54 270.85,152.99 271.31,153.44 271.80,153.90 272.34,154.38 272.94,154.87 273.55,155.36 274.12,155.84 274.60,156.30 274.98,156.74 275.29,157.17 275.55,157.58 275.78,157.99 276.00,158.40 276.20,158.80 276.37,159.19 276.52,159.58 276.66,159.98 276.80,160.40 276.92,160.85 277.02,161.31 277.12,161.79 277.27,162.29 277.50,162.80 277.82,163.34 278.20,163.92 278.64,164.50 279.11,165.07 279.60,165.60 280.13,166.09 280.69,166.55 281.29,166.98 281.89,167.40 282.50,167.80 283.11,168.18 283.74,168.53 284.36,168.87 284.99,169.19 285.60,169.50 286.22,169.80 286.85,170.08 287.46,170.35 288.02,170.62 288.50,170.90 288.89,171.18 289.20,171.46 289.46,171.75 289.69,172.06 289.90,172.40 290.08,172.78 290.23,173.18 290.35,173.61 290.47,174.05 290.60,174.50 290.75,175.00 290.91,175.55 291.07,176.10 291.20,176.57 291.30,176.90" fill="none" stroke="#ff0000" stroke-width="0.95" stroke-opacity="1" stroke-linejoin="round"/>
<polyline points="94.72,29.48 96.93,30.75 99.82,32.42 103.26,34.41 107.10,36.63 111.21,39.00 115.44,41.46 119.66,43.91 123.72,46.28 127.85,48.69 132.27,51.27 136.85,53.96 141.47,56.67 146.00,59.33 150.30,61.87 154.25,64.21 157.72,66.27 160.68,68.05 163.25,69.61 165.51,70.99 167.52,72.24 169.37,73.40 171.14,74.51 172.89,75.62 174.71,76.76 176.51,77.91 178.19,78.99 179.78,80.03 181.32,81.04 182.85,82.04 184.40,83.05 186.01,84.09 187.71,85.17 189.53,86.30 191.46,87.49 193.46,88.71 195.46,89.93 197.44,91.13 199.34,92.28 201.11,93.37 202.71,94.37 204.15,95.28 205.49,96.14 206.73,96.95 207.88,97.71 208.95,98.42 209.94,99.08 210.85,99.69 211.69,100.26 212.43,100.76 213.05,101.18 213.57,101.54" fill="none" stroke="#00ff00" stroke-width="0.6" stroke-opacity="1" stroke-linejoin="round"/>
<polyline points="213.57,101.54 214.02,101.87 214.44,102.16 214.83,102.45 215.24,102.74 215.69,103.05 216.15,103.37 216.60,103.67 217.04,103.97 217.48,104.26 217.91,104.55 218.33,104.84 218.76,105.14 219.20,105.44 219.63,105.74 220.07,106.05 220.50,106.35 220.94,106.66 221.38,106.97 221.81,107.28 222.25,107.60 222.69,107.92 223.14,108.24 223.59,108.57 224.04,108.90 224.50,109.23 224.95,109.56 225.40,109.90 225.84,110.24 226.28,110.59 226.72,110.95 227.16,111.31 227.59,111.69 228.03,112.07 228.47,112.45 228.90,112.83 229.34,113.21 229.79,113.58 230.23,113.94 230.68,114.31 231.14,114.67 231.59,115.03 232.03,115.38 232.47,115.72 232.90,116.06 233.31,116.38 233.71,116.68 234.11,116.98 234.51,117.27 234.89,117.54 235.25,117.81 235.59,118.06 235.91,118.31 236.20,118.55 236.45,118.78 236.66,118.98 236.84,119.18 237.02,119.38 237.20,119.59 237.40,119.82 237.62,120.06 237.88,120.32 238.16,120.60 238.47,120.90 238.79,121.20 239.12,121.52 239.46,121.84 239.80,122.17 240.15,122.50 240.49,122.82 240.83,123.15 241.17,123.49 241.52,123.83 241.87,124.17 242.22,124.52 242.58,124.86 242.94,125.20 243.30,125.53 243.67,125.85 244.03,126.16 244.40,126.47 244.77,126.78 245.14,127.08 245.51,127.37 245.87,127.66 246.23,127.94 246.58,128.22 246.94,128.50 247.29,128.78 247.64,129.05 248.00,129.32 248.35,129.58 248.71,129.83 249.07,130.06 249.42,130.28 249.77,130.49 250.12,130.68 250.46,130.86 250.81,131.03 251.16,131.21 251.53,131.39 251.91,131.58 252.32,131.78 252.75,131.99 253.19,132.21 253.64,132.42 254.10,132.63 254.55,132.85 254.99,133.06 255.41,133.28 255.83,133.49 256.24,133.70 256.65,133.90 257.05,134.11 257.45,134.32 257.84,134.53 258.22,134.74 258.59,134.96 258.96,135.18 259.33,135.40 259.69,135.62 260.04,135.85 260.39,136.07 260.72,136.29 261.05,136.52 261.37,136.74 261.67,136.95 261.96,137.15 262.24,137.34 262.50,137.53 262.76,137.73 263.01,137.93 263.26,138.15 263.52,138.39 263.78,138.65 264.05,138.94 264.32,139.25 264.59,139.56 264.85,139.89 265.11,140.21 265.35,140.53 265.57,140.83 265.76,141.13 265.92,141.44 266.07,141.75 266.22,142.06 266.36,142.37 266.50,142.69 266.65,143.00 266.81,143.31 266.98,143.60 267.14,143.88 267.30,144.16 267.46,144.42 267.62,144.68 267.78,144.93 267.93,145.18 268.08,145.44 268.23,145.69 268.38,145.94 268.55,146.16 268.70,146.38 268.86,146.60 269.01,146.83 269.16,147.06 269.31,147.31 269.46,147.57 269.61,147.85 269.76,148.16 269.92,148.47 270.08,148.80 270.25,149.13 270.42,149.47 270.60,149.79 270.78,150.11 270.97,150.42 271.15,150.72 271.34,151.03 271.57,151.31 271.80,151.60 272.03,151.88 272.27,152.16 272.52,152.45 272.78,152.73 273.05,153.02 273.32,153.30 273.59,153.58 273.86,153.85 274.12,154.11 274.38,154.37 274.64,154.63 274.90,154.87 275.17,155.10 275.43,155.33 275.68,155.55 275.92,155.78 276.16,156.01 276.38,156.25 276.58,156.50 276.77,156.75 276.95,157.00 277.12,157.26 277.28,157.51 277.43,157.77 277.57,158.02 277.71,158.26 277.84,158.50 277.96,158.74 278.06,158.97 278.16,159.19 278.26,159.42 278.35,159.65 278.45,159.88 278.57,160.13 278.69,160.41 278.80,160.70 278.90,160.99 279.01,161.27 279.12,161.55 279.26,161.82 279.41,162.08 279.60,162.34 279.79,162.64 280.02,162.96 280.27,163.30 280.53,163.64 280.82,163.97 281.11,164.30 281.40,164.60 281.68,164.88 281.97,165.14 282.27,165.38 282.59,165.61 282.91,165.83 283.25,166.05 283.59,166.26 283.93,166.47 284.27,166.68 284.61,166.88 284.95,167.07 285.30,167.25 285.65,167.43 286.00,167.61 286.35,167.79 286.71,167.97 287.05,168.15 287.38,168.33 287.71,168.51 288.04,168.68 288.37,168.85 288.70,169.03 289.01,169.21 289.32,169.39 289.61,169.58 289.88,169.76 290.13,169.94 290.38,170.12 290.61,170.31 290.82,170.50 291.03,170.71 291.22,170.92 291.42,171.14 291.60,171.37 291.77,171.61 291.92,171.85 292.07,172.09 292.20,172.32 292.32,172.55 292.43,172.78 292.55,173.00 292.66,173.23 292.77,173.46 292.88,173.69 292.98,173.91 293.07,174.14 293.16,174.35 293.24,174.57 293.33,174.77 293.41,174.99 293.50,175.21 293.58,175.44 293.67,175.65 293.74,175.86 293.80,176.04 293.86,176.19 293.90,176.30" fill="none" stroke="#00ff00" stroke-width="0.55" stroke-opacity="1" stroke-linejoin="round"/>
<polyline points="95.24,28.58 97.44,29.86 100.33,31.53 103.77,33.51 107.62,35.73 111.73,38.11 115.96,40.56 120.18,43.01 124.24,45.38 128.37,47.79 132.79,50.38 137.38,53.06 142.00,55.77 146.52,58.43 150.83,60.97 154.78,63.31 158.25,65.38 161.22,67.16 163.79,68.72 166.05,70.11 168.07,71.36 169.93,72.52 171.69,73.63 173.45,74.74 175.26,75.88 177.07,77.03 178.75,78.11 180.35,79.15 181.90,80.17 183.42,81.17 184.97,82.18 186.57,83.21 188.26,84.28 190.08,85.41 192.01,86.60 194.00,87.81 196.01,89.03 197.98,90.23 199.88,91.39 201.66,92.48 203.26,93.48 204.71,94.40 206.06,95.26 207.31,96.07 208.46,96.83 209.53,97.54 210.52,98.21 211.43,98.82 212.28,99.39 213.02,99.89 213.65,100.32" fill="none" stroke="#0000ff" stroke-width="0.85" stroke-opacity="1" stroke-linejoin="round"/>
<polyline points="213.65,100.32 214.18,100.69 214.65,100.99 215.08,101.26 215.49,101.52 215.91,101.79 216.37,102.07 216.85,102.35 217.32,102.63 217.77,102.90 218.22,103.17 218.65,103.47 219.05,103.80 219.46,104.13 219.87,104.47 220.29,104.81 220.70,105.15 221.11,105.50 221.52,105.84 221.93,106.19 222.35,106.53 222.79,106.85 223.24,107.18 223.68,107.50 224.13,107.83 224.58,108.16 225.04,108.50 225.49,108.84 225.95,109.18 226.40,109.53 226.85,109.89 227.30,110.25 227.74,110.63 228.18,111.01 228.62,111.39 229.06,111.78 229.49,112.15 229.92,112.53 230.36,112.89 230.80,113.25 231.24,113.62 231.74,113.92 232.23,114.22 232.72,114.52 233.20,114.80 233.66,115.08 234.11,115.34 234.54,115.59 234.91,115.91 235.27,116.22 235.63,116.53 235.97,116.83 236.31,117.13 236.63,117.42 236.93,117.71 237.19,117.99 237.42,118.24 237.62,118.48 237.79,118.71 237.96,118.93 238.13,119.16 238.32,119.40 238.56,119.65 238.84,119.91 239.14,120.20 239.46,120.50 239.80,120.81 240.14,121.13 240.49,121.45 240.84,121.78 241.19,122.10 241.53,122.43 241.88,122.76 242.24,123.10 242.59,123.44 242.94,123.78 243.30,124.11 243.69,124.40 244.09,124.66 244.49,124.91 244.89,125.15 245.30,125.39 245.71,125.63 246.12,125.86 246.53,126.09 246.92,126.34 247.28,126.62 247.63,126.90 247.98,127.18 248.33,127.45 248.67,127.71 249.00,127.97 249.33,128.21 249.65,128.44 249.98,128.65 250.29,128.84 250.60,129.03 250.88,129.26 251.17,129.49 251.46,129.73 251.78,129.97 252.11,130.22 252.46,130.49 252.82,130.77 253.20,131.06 253.63,131.28 254.08,131.50 254.53,131.72 254.99,131.94 255.43,132.16 255.86,132.38 256.28,132.60 256.69,132.81 257.10,133.02 257.51,133.24 257.91,133.45 258.31,133.67 258.70,133.89 259.08,134.11 259.46,134.34 259.83,134.57 260.20,134.80 260.56,135.04 260.91,135.27 261.26,135.50 261.59,135.73 261.91,135.95 262.21,136.17 262.50,136.37 262.79,136.57 263.06,136.78 263.34,136.99 263.61,137.21 263.89,137.46 264.17,137.72 264.45,138.01 264.74,138.32 265.02,138.64 265.30,138.97 265.57,139.31 265.84,139.65 266.09,139.98 266.32,140.30 266.54,140.63 266.74,140.95 266.92,141.28 267.09,141.59 267.25,141.89 267.41,142.19 267.57,142.46 267.73,142.73 267.90,142.99 268.07,143.25 268.24,143.49 268.41,143.74 268.63,143.95 268.84,144.17 269.05,144.39 269.26,144.61 269.46,144.82 269.66,145.02 269.86,145.22 270.06,145.42 270.26,145.64 270.47,145.86 270.68,146.11 270.89,146.38 271.11,146.67 271.31,146.97 271.52,147.28 271.72,147.59 271.91,147.89 272.11,148.18 272.27,148.47 272.43,148.76 272.60,149.05 272.77,149.34 272.95,149.63 273.12,149.92 273.30,150.20 273.49,150.49 273.68,150.78 273.87,151.06 274.07,151.35 274.28,151.64 274.50,151.94 274.68,152.27 274.84,152.61 275.01,152.95 275.18,153.29 275.34,153.61 275.50,153.92 275.66,154.23 275.83,154.53 276.00,154.84 276.17,155.15 276.33,155.46 276.52,155.74 276.72,156.02 276.89,156.30 277.06,156.58 277.21,156.86 277.36,157.14 277.49,157.41 277.62,157.68 277.74,157.94 277.86,158.20 277.97,158.45 278.07,158.70 278.15,158.94 278.23,159.17 278.31,159.40 278.39,159.63 278.48,159.87 278.57,160.13 278.67,160.42 278.76,160.72 278.85,161.01 278.93,161.30 279.03,161.59 279.14,161.87 279.27,162.16 279.43,162.44 279.63,162.75 279.85,163.08 280.11,163.42 280.38,163.77 280.66,164.11 280.95,164.44 281.25,164.75 281.54,165.03 281.84,165.30 282.14,165.55 282.46,165.78 282.79,166.01 283.13,166.23 283.47,166.45 283.82,166.66 284.16,166.87 284.50,167.07 284.84,167.27 285.19,167.45 285.54,167.64 285.89,167.82 286.25,168.00 286.60,168.18 286.94,168.36 287.27,168.54 287.60,168.72 287.93,168.89 288.26,169.06 288.61,169.19 288.95,169.32 289.28,169.46 289.59,169.61 289.88,169.75 290.16,169.90 290.43,170.05 290.69,170.20 290.94,170.37 291.18,170.54 291.42,170.73 291.65,170.93 291.88,171.15 292.09,171.38 292.28,171.62 292.46,171.85 292.62,172.08 292.77,172.30 292.91,172.51 293.05,172.72 293.18,172.96 293.30,173.20 293.41,173.43 293.52,173.66 293.62,173.89 293.72,174.11 293.81,174.32 293.90,174.52 294.00,174.74 294.09,174.97 294.18,175.20 294.27,175.42 294.35,175.62 294.42,175.80 294.47,175.95 294.52,176.06" fill="none" stroke="#0000ff" stroke-width="0.85" stroke-opacity="1" stroke-linejoin="round"/>
<polyline points="193.74,88.24 195.80,89.37 197.92,90.33 199.96,91.26 201.77,92.31 203.37,93.31 204.82,94.23 206.17,95.09 207.42,95.90 208.57,96.67 209.64,97.38 210.63,98.04 211.55,98.65 212.39,99.22 213.09,99.78 213.68,100.26 214.18,100.68 214.61,101.04 215.00,101.37 215.38,101.69 215.76,102.01 216.17,102.35 216.61,102.71 217.03,103.05 217.46,103.36 217.89,103.65 218.32,103.95 218.75,104.24 219.18,104.53 219.61,104.84 220.05,105.14 220.49,105.45 220.92,105.76 221.39,106.02 221.89,106.25 222.39,106.48 222.89,106.72 223.39,106.96 223.90,107.20 224.41,107.45 224.88,107.76 225.34,108.10 225.79,108.44 226.25,108.78 226.71,109.14 227.16,109.50 227.62,109.87 228.07,110.25 228.51,110.63 228.95,111.02 229.39,111.40 229.82,111.78 230.25,112.15 230.68,112.51 231.11,112.87 231.56,113.23 231.99,113.60 232.43,113.97 232.86,114.34 233.28,114.70 233.69,115.04 234.09,115.37 234.47,115.68 234.85,115.99 235.23,116.28 235.60,116.57 235.96,116.85 236.30,117.13 236.65,117.39 236.98,117.64 237.28,117.89 237.54,118.12 237.77,118.34 237.97,118.55 238.17,118.76 238.36,118.96 238.57,119.16 238.81,119.39 239.10,119.65 239.41,119.92 239.75,120.20 240.09,120.50 240.45,120.81 240.80,121.12 241.15,121.45 241.50,121.78 241.84,122.11 242.19,122.45 242.54,122.80 242.89,123.14 243.23,123.48 243.58,123.81 243.93,124.13 244.27,124.45 244.62,124.75 244.98,125.06 245.33,125.36 245.69,125.65 246.05,125.95 246.41,126.23 246.77,126.52 247.13,126.80 247.49,127.08 247.84,127.36 248.19,127.63 248.53,127.89 248.87,128.15 249.20,128.39 249.53,128.62 249.85,128.84 250.18,129.04 250.49,129.22 250.81,129.39 251.13,129.56 251.46,129.73 251.81,129.90 252.18,130.08 252.56,130.28 252.96,130.48 253.38,130.68 253.82,130.89 254.27,131.10 254.73,131.32 255.18,131.53 255.63,131.75 256.07,131.97 256.49,132.18 256.91,132.39 257.32,132.60 257.73,132.82 258.14,133.03 258.54,133.25 258.94,133.47 259.33,133.69 259.72,133.92 260.10,134.15 260.47,134.38 260.84,134.61 261.19,134.85 261.54,135.08 261.88,135.31 262.20,135.53 262.51,135.74 262.80,135.94 263.09,136.15 263.38,136.35 263.67,136.57 263.96,136.81 264.25,137.06 264.54,137.34 264.84,137.64 265.14,137.95 265.43,138.28 265.72,138.62 266.00,138.97 266.27,139.31 266.53,139.65 266.78,139.98 267.01,140.32 267.22,140.67 267.41,141.00 267.59,141.32 267.75,141.62 267.91,141.91 268.06,142.18 268.21,142.43 268.37,142.67 268.54,142.92 268.71,143.16 268.88,143.40 269.06,143.64 269.23,143.89 269.41,144.13 269.58,144.38 269.75,144.61 269.91,144.84 270.07,145.06 270.24,145.29 270.41,145.53 270.58,145.79 270.76,146.06 270.93,146.35 271.11,146.66 271.28,146.99 271.45,147.31 271.61,147.64 271.77,147.96 271.93,148.27 272.09,148.57 272.25,148.87 272.42,149.16 272.59,149.45 272.76,149.74 272.94,150.03 273.13,150.32 273.31,150.61 273.50,150.89 273.70,151.18 273.90,151.47 274.11,151.76 274.33,152.06 274.56,152.36 274.79,152.66 275.02,152.95 275.24,153.24 275.46,153.52 275.67,153.78 275.88,154.04 276.11,154.30 276.33,154.56 276.56,154.82 276.78,155.10 277.01,155.38 277.23,155.68 277.43,155.97 277.61,156.26 277.78,156.55 277.94,156.84 278.09,157.12 278.23,157.39 278.36,157.66 278.48,157.92 278.60,158.19 278.71,158.45 278.81,158.70 278.90,158.94 278.99,159.17 279.07,159.40 279.16,159.63 279.26,159.89 279.37,160.19 279.47,160.50 279.56,160.80 279.64,161.07 279.74,161.33 279.84,161.58 279.96,161.81 280.10,162.04 280.29,162.31 280.51,162.61 280.76,162.92 281.03,163.24 281.31,163.55 281.60,163.84 281.89,164.12 282.16,164.38 282.42,164.61 282.69,164.83 282.99,165.05 283.30,165.26 283.62,165.47 283.95,165.68 284.29,165.90 284.63,166.10 284.95,166.30 285.27,166.48 285.61,166.66 285.95,166.84 286.30,167.02 286.66,167.20 287.02,167.38 287.36,167.57 287.69,167.75 288.02,167.92 288.35,168.10 288.69,168.28 289.02,168.46 289.34,168.64 289.66,168.84 289.97,169.03 290.25,169.22 290.52,169.41 290.77,169.60 291.02,169.80 291.26,170.00 291.50,170.21 291.72,170.43 291.94,170.67 292.16,170.92 292.36,171.18 292.54,171.44 292.70,171.70 292.85,171.95 292.98,172.18 293.10,172.41 293.23,172.63 293.36,172.86 293.48,173.11 293.60,173.35 293.70,173.58 293.81,173.81 293.90,174.03 294.00,174.24 294.09,174.45 294.18,174.67 294.27,174.90 294.37,175.13 294.45,175.35 294.53,175.55 294.60,175.73 294.66,175.88 294.70,175.99" fill="none" stroke="#ff8000" stroke-width="0.9" stroke-opacity="1" stroke-linejoin="round"/>
<polyline points="95.00,29.00 97.20,30.27 100.09,31.94 103.53,33.93 107.38,36.15 111.48,38.53 115.72,40.98 119.94,43.43 124.00,45.80 128.13,48.21 132.55,50.80 137.13,53.48 141.75,56.19 146.28,58.86 150.58,61.39 154.53,63.73 158.00,65.80 160.97,67.58 163.54,69.14 165.80,70.53 167.81,71.78 169.67,72.93 171.43,74.05 173.18,75.15 175.00,76.30 176.80,77.45 178.48,78.53 180.08,79.57 181.62,80.58 183.15,81.58 184.70,82.59 186.31,83.63 188.00,84.70 189.82,85.83 191.75,87.02 193.74,88.24 195.75,89.46 197.73,90.66 199.62,91.81 201.40,92.90 203.00,93.90 204.45,94.82 205.79,95.68 207.03,96.49 208.19,97.25 209.25,97.96 210.24,98.62 211.16,99.23 212.00,99.80 212.74,100.30 213.36,100.73 213.89,101.09" fill="none" stroke="#000" stroke-width="1.1" stroke-opacity="1" stroke-linejoin="round"/>
<polyline points="213.36,100.73 213.89,101.09 214.34,101.42 214.76,101.72 215.15,102.00 215.56,102.29 216.00,102.60 216.46,102.92 216.91,103.23 217.35,103.52 217.78,103.82 218.21,104.11 218.64,104.40 219.07,104.70 219.50,105.00 219.94,105.31 220.37,105.61 220.81,105.92 221.24,106.23 221.68,106.54 222.12,106.86 222.56,107.18 223.00,107.50 223.45,107.83 223.90,108.15 224.35,108.48 224.80,108.82 225.25,109.16 225.70,109.50 226.15,109.85 226.60,110.20 227.04,110.56 227.48,110.93 227.92,111.31 228.36,111.69 228.79,112.08 229.23,112.46 229.66,112.83 230.10,113.20 230.54,113.56 230.99,113.93 231.44,114.29 231.89,114.65 232.33,115.00 232.77,115.35 233.19,115.68 233.60,116.00 234.00,116.31 234.40,116.60 234.78,116.89 235.16,117.16 235.53,117.43 235.87,117.69 236.20,117.95 236.50,118.20 236.76,118.44 236.99,118.66 237.19,118.87 237.37,119.08 237.55,119.29 237.74,119.51 237.95,119.74 238.20,120.00 238.48,120.28 238.78,120.57 239.10,120.88 239.43,121.19 239.77,121.52 240.11,121.84 240.46,122.17 240.80,122.50 241.14,122.83 241.48,123.17 241.83,123.51 242.18,123.86 242.53,124.20 242.89,124.54 243.24,124.88 243.60,125.20 243.96,125.52 244.32,125.83 244.68,126.14 245.05,126.44 245.42,126.74 245.78,127.03 246.14,127.32 246.50,127.60 246.85,127.88 247.21,128.16 247.56,128.44 247.91,128.71 248.25,128.97 248.60,129.22 248.95,129.47 249.30,129.70 249.65,129.91 249.98,130.11 250.32,130.30 250.66,130.47 251.00,130.65 251.35,130.82 251.72,131.01 252.10,131.20 252.51,131.40 252.93,131.61 253.37,131.82 253.82,132.04 254.28,132.25 254.73,132.47 255.17,132.69 255.60,132.90 256.02,133.11 256.43,133.32 256.84,133.53 257.24,133.74 257.64,133.96 258.04,134.17 258.42,134.38 258.80,134.60 259.17,134.82 259.54,135.05 259.91,135.27 260.26,135.50 260.61,135.73 260.95,135.95 261.28,136.18 261.60,136.40 261.90,136.61 262.19,136.81 262.47,137.01 262.74,137.21 263.01,137.41 263.27,137.62 263.53,137.85 263.80,138.10 264.07,138.37 264.35,138.67 264.63,138.98 264.90,139.31 265.17,139.63 265.43,139.96 265.67,140.29 265.90,140.60 266.11,140.91 266.30,141.22 266.48,141.52 266.64,141.83 266.81,142.13 266.97,142.43 267.13,142.72 267.30,143.00 267.48,143.27 267.65,143.53 267.83,143.78 268.01,144.03 268.18,144.27 268.36,144.52 268.53,144.76 268.70,145.00 268.87,145.24 269.03,145.47 269.19,145.69 269.36,145.92 269.52,146.15 269.68,146.39 269.84,146.63 270.00,146.90 270.16,147.18 270.32,147.49 270.48,147.80 270.64,148.12 270.80,148.44 270.96,148.77 271.13,149.09 271.30,149.40 271.48,149.70 271.65,150.01 271.83,150.31 272.02,150.61 272.21,150.90 272.40,151.20 272.60,151.50 272.80,151.80 273.01,152.10 273.23,152.41 273.46,152.71 273.69,153.02 273.92,153.32 274.15,153.62 274.38,153.91 274.60,154.20 274.82,154.48 275.05,154.75 275.27,155.01 275.49,155.27 275.71,155.53 275.92,155.78 276.12,156.04 276.30,156.30 276.47,156.56 276.63,156.83 276.77,157.10 276.91,157.36 277.04,157.63 277.17,157.89 277.29,158.15 277.40,158.40 277.51,158.64 277.60,158.88 277.68,159.11 277.76,159.33 277.84,159.56 277.92,159.79 278.01,160.04 278.10,160.30 278.19,160.57 278.28,160.86 278.37,161.15 278.46,161.45 278.56,161.76 278.68,162.07 278.82,162.38 279.00,162.70 279.21,163.03 279.45,163.37 279.71,163.73 279.99,164.08 280.28,164.43 280.58,164.77 280.89,165.10 281.20,165.40 281.51,165.68 281.84,165.94 282.17,166.19 282.51,166.43 282.86,166.65 283.21,166.87 283.55,167.09 283.90,167.30 284.25,167.51 284.60,167.71 284.96,167.90 285.31,168.08 285.67,168.26 286.02,168.44 286.36,168.62 286.70,168.80 287.03,168.98 287.36,169.16 287.69,169.33 288.02,169.51 288.33,169.68 288.64,169.85 288.93,170.03 289.20,170.20 289.45,170.37 289.70,170.54 289.92,170.71 290.14,170.88 290.34,171.05 290.54,171.23 290.72,171.41 290.90,171.60 291.07,171.80 291.22,172.00 291.37,172.22 291.51,172.43 291.64,172.65 291.76,172.87 291.88,173.09 292.00,173.30 292.12,173.51 292.23,173.73 292.33,173.95 292.43,174.16" fill="none" stroke="#000" stroke-width="0.9" stroke-opacity="1" stroke-linejoin="round"/>
<polyline points="278.57,160.13 278.69,160.41 278.80,160.70 278.90,160.99 279.01,161.27 279.12,161.55 279.26,161.82 279.41,162.08 279.60,162.34 279.79,162.64 280.02,162.96 280.27,163.30 280.53,163.64 280.82,163.97 281.11,164.30 281.40,164.60 281.68,164.88 281.97,165.14 282.27,165.38 282.59,165.61 282.91,165.83 283.25,166.05 283.59,166.26 283.93,166.47 284.27,166.68 284.61,166.88 284.95,167.07 285.30,167.25 285.65,167.43 286.00,167.61 286.35,167.79 286.71,167.97 287.05,168.15 287.38,168.33 287.71,168.51 288.04,168.68 288.37,168.85 288.70,169.03 289.01,169.21 289.32,169.39 289.61,169.58 289.88,169.76 290.13,169.94 290.38,170.12 290.61,170.31 290.82,170.50 291.03,170.71 291.22,170.92 291.42,171.14 291.60,171.37 291.77,171.61 291.92,171.85 292.07,172.09 292.20,172.32 292.32,172.55 292.43,172.78 292.55,173.00 292.66,173.23 292.77,173.46 292.88,173.69 292.98,173.91 293.07,174.14 293.16,174.35 293.24,174.57 293.33,174.77 293.41,174.99 293.50,175.21 293.58,175.44 293.67,175.65 293.74,175.86 293.80,176.04 293.86,176.19 293.90,176.30" fill="none" stroke="#00ff00" stroke-width="0.5" stroke-opacity="1" stroke-linejoin="round"/>
<polyline points="95.00,211.75 150.00,211.75 200.00,211.70 238.00,211.70 244.00,211.20 250.00,211.30 256.00,211.80 290.80,211.80" fill="none" stroke="#0000ff" stroke-width="0.7" stroke-opacity="1" stroke-linejoin="round"/>
<polyline points="95.00,212.45 200.00,212.30 240.00,212.25 290.80,212.20" fill="none" stroke="#000" stroke-width="0.9" stroke-opacity="1" stroke-linejoin="round"/>
<polyline points="200.00,212.20 240.00,212.10 262.00,211.80 268.00,210.90 274.00,210.80 280.00,211.60 290.80,212.00" fill="none" stroke="#ff8000" stroke-width="0.595" stroke-opacity="1" stroke-linejoin="round"/>
<polyline points="95.00,212.90 200.00,212.50 236.00,212.30 243.00,212.60 250.00,212.30 262.00,211.90 267.00,211.00 272.00,210.60 277.00,211.20 282.00,211.90 290.80,211.90" fill="none" stroke="#00ff00" stroke-width="0.595" stroke-opacity="1" stroke-linejoin="round"/>
<polyline points="95.00,213.30 150.00,213.15 200.00,212.95 240.00,212.90 255.00,212.70 262.00,212.90 270.00,213.10 280.00,212.80 288.00,212.70 290.30,212.80 290.60,214.20" fill="none" stroke="#ff0000" stroke-width="0.9" stroke-opacity="1" stroke-linejoin="round"/>
</g>
</svg>
</body></html>
